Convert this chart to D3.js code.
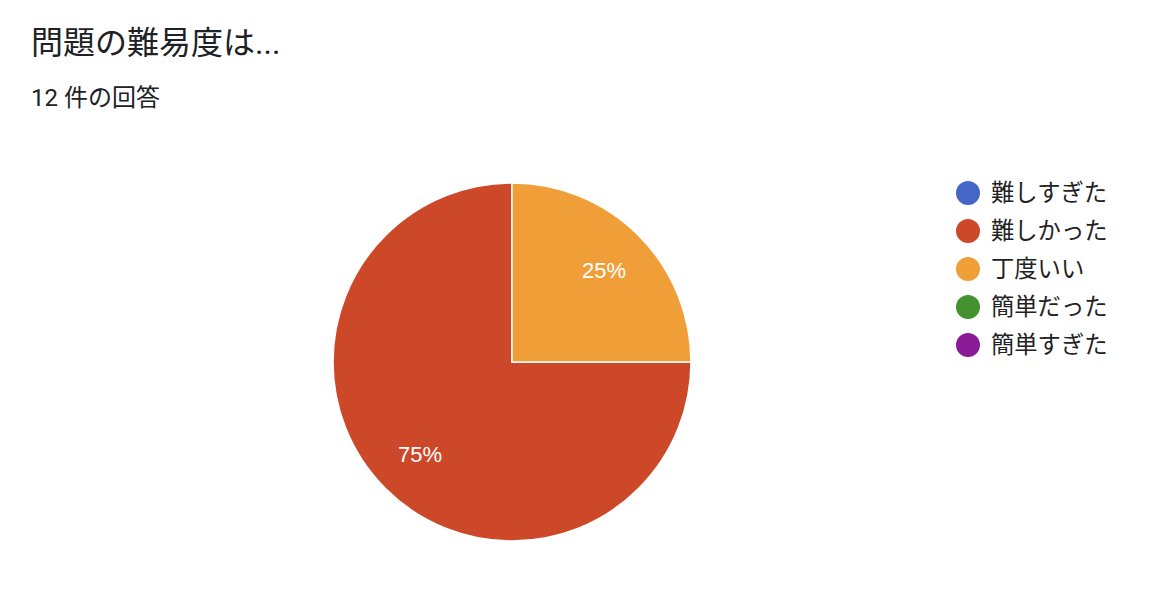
<!DOCTYPE html>
<html><head><meta charset="utf-8">
<script src="https://cdn.jsdelivr.net/npm/d3@7/dist/d3.min.js"></script>
<style>
body{margin:0;background:#fff;}
svg{display:block;}
</style></head>
<body>
<svg id="c" width="1170" height="590"></svg>
<script>
const title = "問題の難易度は...";
const subtitle = "12 件の回答";
const categories = ["難しすぎた", "難しかった", "丁度いい", "簡単だった", "簡単すぎた"];
const counts = [0, 9, 3, 0, 0];
const colors = ["#4366c7", "#cc4828", "#f09f38", "#44922f", "#8b1a96"];

const svg = d3.select("#c");
const cjk = "Roboto, 'Noto Sans CJK JP', sans-serif";

svg.append("text").attr("x", 31).attr("y", 54)
  .attr("font-family", cjk).attr("font-size", 32).attr("fill", "#202124").text(title);
svg.append("text").attr("x", 31).attr("y", 106)
  .attr("font-family", cjk).attr("font-size", 24).attr("fill", "#202124").text(subtitle);

const data = categories.map((c, i) => ({ name: c, value: counts[i], color: colors[i] }));
const total = d3.sum(counts);
const cx = 512, cy = 362, r = 179;

const pie = d3.pie().value(d => d.value).sort((a, b) => a.value - b.value);
const arcs = pie(data).filter(d => d.value > 0);
const arc = d3.arc().innerRadius(0).outerRadius(r);
const labelArc = d3.arc().innerRadius(130).outerRadius(130);

const g = svg.append("g").attr("transform", `translate(${cx},${cy})`);
g.selectAll("path").data(arcs).join("path")
  .attr("d", arc).attr("fill", d => d.data.color)
  .attr("stroke", "#fff").attr("stroke-width", 1.5);

g.selectAll("text").data(arcs).join("text")
  .attr("transform", d => `translate(${labelArc.centroid(d)})`)
  .attr("text-anchor", "middle").attr("dy", "0.36em")
  .attr("font-family", "Arial, 'Liberation Sans', sans-serif").attr("font-size", 22)
  .attr("fill", "#fff")
  .text(d => Math.round(d.value / total * 100) + "%");

const y = d3.scalePoint().domain(categories).range([193, 345]);
const lg = svg.append("g");
const items = lg.selectAll("g").data(data).join("g")
  .attr("transform", d => `translate(968,${y(d.name)})`);
items.append("circle").attr("r", 12).attr("fill", d => d.color);
items.append("text").attr("x", 23).attr("dy", "0.36em")
  .attr("font-family", "'Noto Sans CJK JP', sans-serif").attr("font-size", 23.3)
  .attr("fill", "#222").text(d => d.name);
</script>
</body></html>
